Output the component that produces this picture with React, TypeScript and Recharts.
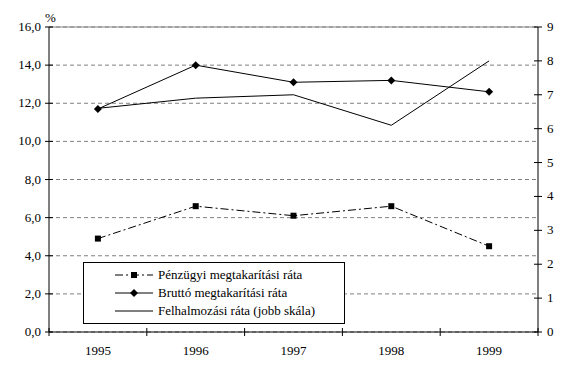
import { ComposedChart, Line, XAxis, YAxis, CartesianGrid, ReferenceLine } from "recharts";

const years = ["1995", "1996", "1997", "1998", "1999"];
const penzugyi = [4.9, 6.6, 6.1, 6.6, 4.5];
const brutto = [11.7, 14.0, 13.1, 13.2, 12.6];
const felhalmozasi = [6.6, 6.9, 7.0, 6.1, 8.0];

const leftTicks = [0, 2, 4, 6, 8, 10, 12, 14, 16];
const rightTicks = [0, 1, 2, 3, 4, 5, 6, 7, 8, 9];

const seriesNames = {
  penzugyi: "Pénzügyi megtakarítási ráta",
  brutto: "Bruttó megtakarítási ráta",
  felhalmozasi: "Felhalmozási ráta (jobb skála)",
};

const data = years.map((year, i) => ({
  year,
  penzugyi: penzugyi[i],
  brutto: brutto[i],
  felhalmozasi: felhalmozasi[i],
}));

const W = 565;
const H = 371;
const PLOT_LEFT = 49;
const PLOT_RIGHT = 538;
const PLOT_TOP = 27;
const PLOT_BOTTOM = 332;
const BAND = (PLOT_RIGHT - PLOT_LEFT) / years.length;
const FONT = '"Liberation Serif", "Times New Roman", serif';
const FS = 13;

const SquareDot = (props: any) => {
  const { cx, cy } = props;
  if (cx == null || cy == null) return null;
  return <rect x={cx - 3} y={cy - 3} width={6} height={6} fill="#000" />;
};

const DiamondDot = (props: any) => {
  const { cx, cy } = props;
  if (cx == null || cy == null) return null;
  return <polygon points={`${cx},${cy - 4} ${cx + 4},${cy} ${cx},${cy + 4} ${cx - 4},${cy}`} fill="#000" />;
};

const XTick = (props: any) => {
  const { x, payload, index } = props;
  const left = x - BAND / 2;
  return (
    <g>
      <line x1={left} x2={left} y1={PLOT_BOTTOM - 4} y2={PLOT_BOTTOM + 4} stroke="#000" />
      {index === years.length - 1 && (
        <line x1={left + BAND} x2={left + BAND} y1={PLOT_BOTTOM - 4} y2={PLOT_BOTTOM + 4} stroke="#000" />
      )}
      <text x={x} y={PLOT_BOTTOM + 23} textAnchor="middle" fontSize={FS} fontFamily={FONT} fill="#000">
        {payload.value}
      </text>
    </g>
  );
};

const LeftTick = (props: any) => {
  const { y, payload } = props;
  return (
    <g>
      <line x1={PLOT_LEFT - 4} x2={PLOT_LEFT + 4} y1={y} y2={y} stroke="#000" />
      <text x={PLOT_LEFT - 8} y={y + 4} textAnchor="end" fontSize={FS} fontFamily={FONT} fill="#000">
        {payload.value.toFixed(1).replace(".", ",")}
      </text>
    </g>
  );
};

const RightTick = (props: any) => {
  const { y, payload } = props;
  return (
    <g>
      <line x1={PLOT_RIGHT - 4} x2={PLOT_RIGHT + 4} y1={y} y2={y} stroke="#000" />
      <text x={PLOT_RIGHT + 9} y={y + 4} textAnchor="start" fontSize={FS} fontFamily={FONT} fill="#000">
        {payload.value}
      </text>
    </g>
  );
};

const LegendBox = () => {
  const rows = [
    { key: "penzugyi", dash: "8 3 2 3", marker: "square" },
    { key: "brutto", dash: undefined, marker: "diamond" },
    { key: "felhalmozasi", dash: undefined, marker: null },
  ];
  return (
    <div
      style={{
        position: "absolute",
        left: 83,
        top: 262,
        width: 262,
        height: 62,
        border: "1px solid #000",
        background: "#fff",
        boxSizing: "border-box",
        padding: "3px 0 0 31px",
        fontFamily: FONT,
        fontSize: FS,
        lineHeight: "18px",
      }}
    >
      {rows.map((r) => (
        <div key={r.key} style={{ display: "flex", alignItems: "center", height: 18 }}>
          <svg width={38} height={10}>
            <line x1={0} x2={38} y1={5} y2={5} stroke="#000" strokeDasharray={r.dash} />
            {r.marker === "square" && <rect x={16} y={2} width={6} height={6} fill="#000" />}
            {r.marker === "diamond" && <polygon points="19,1 23,5 19,9 15,5" fill="#000" />}
          </svg>
          <span style={{ marginLeft: 5 }}>{seriesNames[r.key as keyof typeof seriesNames]}</span>
        </div>
      ))}
    </div>
  );
};

export default function App() {
  return (
    <div style={{ position: "absolute", left: 0, top: 0, width: W, height: H, background: "#fff" }}>
      <ComposedChart
        width={W}
        height={H}
        data={data}
        margin={{ top: PLOT_TOP, right: W - PLOT_RIGHT - 20, bottom: H - PLOT_BOTTOM - 30, left: PLOT_LEFT - 40 }}
      >
        <CartesianGrid yAxisId="left" vertical={false} stroke="#808080" strokeDasharray="4 3" />
        <ReferenceLine yAxisId="left" y={16} stroke="#808080" />
        <XAxis
          dataKey="year"
          scale="band"
          height={30}
          stroke="#000"
          tickLine={false}
          tick={<XTick />}
          interval={0}
        />
        <YAxis
          yAxisId="left"
          width={40}
          domain={[0, 16]}
          ticks={leftTicks}
          stroke="#000"
          tickLine={false}
          tick={<LeftTick />}
          interval={0}
        />
        <YAxis
          yAxisId="right"
          orientation="right"
          width={20}
          domain={[0, 9]}
          ticks={rightTicks}
          stroke="#000"
          tickLine={false}
          tick={<RightTick />}
          interval={0}
        />
        <Line
          yAxisId="left"
          dataKey="penzugyi"
          name={seriesNames.penzugyi}
          stroke="#000"
          strokeWidth={1}
          strokeDasharray="8 3 2 3"
          dot={<SquareDot />}
          activeDot={false}
          isAnimationActive={false}
        />
        <Line
          yAxisId="left"
          dataKey="brutto"
          name={seriesNames.brutto}
          stroke="#000"
          strokeWidth={1}
          dot={<DiamondDot />}
          activeDot={false}
          isAnimationActive={false}
        />
        <Line
          yAxisId="right"
          dataKey="felhalmozasi"
          name={seriesNames.felhalmozasi}
          stroke="#000"
          strokeWidth={1}
          dot={false}
          activeDot={false}
          isAnimationActive={false}
        />
      </ComposedChart>
      <span style={{ position: "absolute", left: 45, top: 10, fontFamily: FONT, fontSize: FS }}>%</span>
      <LegendBox />
    </div>
  );
}
